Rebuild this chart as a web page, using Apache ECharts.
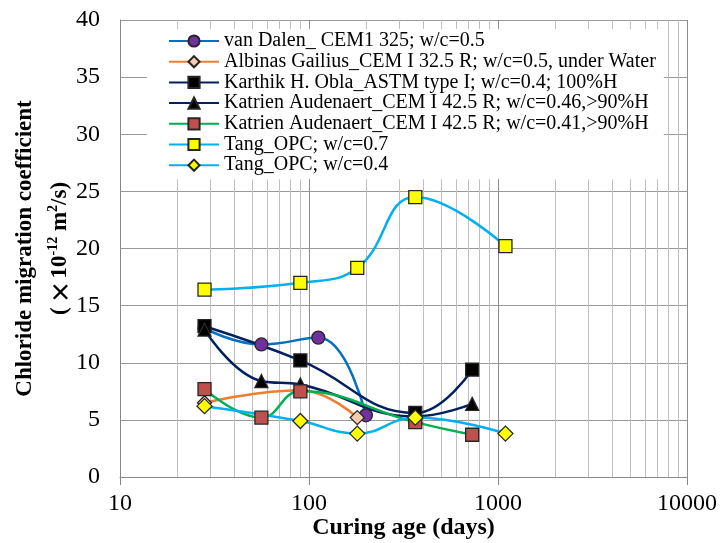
<!DOCTYPE html>
<html>
<head>
<meta charset="utf-8">
<script src="https://cdn.jsdelivr.net/npm/echarts@6/dist/echarts.min.js"></script>
<style>
  html, body { margin: 0; padding: 0; background: #fff; }
  #chart { width: 720px; height: 543px; }
</style>
</head>
<body>
<div id="chart"></div>
<script>
// curing age (days) / chloride migration coefficient (x10^-12 m2/s)
const vanDalen = [[28, 13.0], [56, 11.6], [112, 12.2], [200, 5.4]];
const gailius = [[28, 6.5], [90, 7.6], [180, 5.2]];
const obla = [[28, 13.2], [90, 10.2], [365, 5.6], [730, 9.4]];
const katrien46 = [[28, 12.9], [56, 8.4], [90, 8.1], [365, 5.3], [730, 6.4]];
const katrien41 = [[28, 7.7], [56, 5.2], [90, 7.5], [365, 4.8], [730, 3.7]];
const tang07 = [[28, 16.4], [90, 17.0], [180, 18.3], [365, 24.5], [1095, 20.2]];
const tang04 = [[28, 6.2], [90, 4.9], [180, 3.8], [365, 5.2], [1095, 3.8]];

const names = [
  'van Dalen_ CEM1 325; w/c=0.5',
  'Albinas Gailius_CEM I 32.5 R; w/c=0.5, under Water',
  'Karthik H. Obla_ASTM type I; w/c=0.4; 100%H',
  'Katrien Audenaert_CEM I 42.5 R; w/c=0.46,>90%H',
  'Katrien Audenaert_CEM I 42.5 R; w/c=0.41,>90%H',
  'Tang_OPC; w/c=0.7',
  'Tang_OPC; w/c=0.4'
];

// minor log gridlines
const minorTicks = [20, 30, 40, 50, 60, 70, 80, 90,
  200, 300, 400, 500, 600, 700, 800, 900,
  2000, 3000, 4000, 5000, 6000, 7000, 8000, 9000];

const font = 'Liberation Serif';

function line(name, data, lineColor, symbol, fill, size) {
  return {
    name: name,
    type: 'line',
    data: data,
    smooth: 0.45,
    symbol: symbol,
    symbolSize: size,
    lineStyle: { color: lineColor, width: 2.5 },
    itemStyle: { color: fill, borderColor: '#262626', borderWidth: 1.3 },
    color: lineColor
  };
}

const series = [
  line(names[0], vanDalen, '#0070C0', 'circle', '#7030A0', 13),
  line(names[1], gailius, '#ED7D31', 'diamond', '#F8CBAD', 14),
  line(names[2], obla, '#002060', 'rect', '#000000', 13),
  line(names[3], katrien46, '#002060', 'triangle', '#000000', 13),
  line(names[4], katrien41, '#00B050', 'rect', '#C0504D', 13),
  line(names[5], tang07, '#00B0F0', 'rect', '#FFFF00', 13),
  line(names[6], tang04, '#00B0F0', 'diamond', '#FFFF00', 15)
];

series[0].markLine = {
  silent: true,
  symbol: 'none',
  z: 1,
  animation: false,
  label: { show: false },
  lineStyle: { color: '#c0c0c0', width: 1, type: 'solid' },
  data: minorTicks.map(function (v) { return { xAxis: v }; })
};

const chart = echarts.init(document.getElementById('chart'));
chart.setOption({
  animation: false,
  backgroundColor: '#fff',
  grid: { left: 120, right: 33, top: 20, bottom: 66, outerBoundsMode: 'none', containLabel: false },
  legend: {
    data: names,
    orient: 'vertical',
    left: 147,
    top: 29,
    padding: [2, 8, 4, 21],
    backgroundColor: '#fff',
    itemWidth: 50,
    itemHeight: 14,
    itemGap: 0.7,
    textStyle: { fontFamily: font, fontSize: 20, color: '#000', lineHeight: 20 }
  },
  xAxis: {
    type: 'log',
    logBase: 10,
    min: 10,
    max: 10000,
    axisLine: { show: true, lineStyle: { color: '#888' } },
    axisTick: { show: true, length: 8, lineStyle: { color: '#888' } },
    axisLabel: {
      fontFamily: font, fontSize: 24, color: '#000', margin: 15,
      formatter: function (v) { return String(v); }
    },
    splitLine: { show: true, lineStyle: { color: '#8c8c8c' } },
    name: 'Curing age (days)',
    nameLocation: 'middle',
    nameGap: 39,
    nameMoveOverlap: false,
    nameTextStyle: { fontFamily: font, fontSize: 24, fontWeight: 'bold', color: '#000' }
  },
  yAxis: {
    type: 'value',
    min: 0,
    max: 40,
    interval: 5,
    axisLine: { show: true, lineStyle: { color: '#888' } },
    axisTick: { show: false },
    axisLabel: { fontFamily: font, fontSize: 24, color: '#000', margin: 20 },
    splitLine: { show: true, lineStyle: { color: '#999' } },
    name: '{b|Chloride migration coefficient}\n{b|(}{c|×}{b|10}{s|-12}{b| m}{s|2}{b|/s)}',
    nameLocation: 'middle',
    nameRotate: 90,
    nameGap: 42,
    nameMoveOverlap: false,
    nameTextStyle: {
      fontFamily: font,
      fontSize: 24,
      fontWeight: 'bold',
      color: '#000',
      lineHeight: 35,
      rich: {
        b: { fontFamily: font, fontSize: 23, fontWeight: 'bold', color: '#000', lineHeight: 35 },
        c: { fontFamily: 'Noto Sans CJK SC', fontSize: 23, color: '#000', lineHeight: 35, padding: [0, 2, 0, 4] },
        s: { fontFamily: font, fontSize: 14, fontWeight: 'bold', color: '#000', verticalAlign: 'top', lineHeight: 35, padding: [3, 0, 0, 0] }
      }
    }
  },
  series: series
});
</script>
</body>
</html>
